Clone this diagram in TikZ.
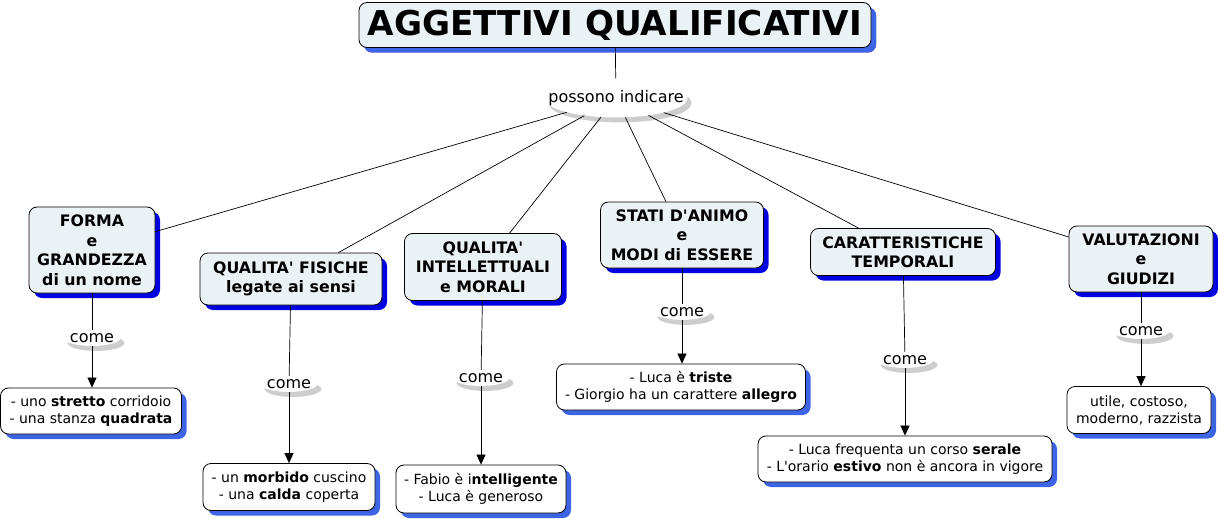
\documentclass[tikz,border=0pt]{standalone}
\usepackage{fontspec}
\setmainfont{DejaVu Sans}
\usetikzlibrary{shapes.geometric,shadows,arrows.meta}
\definecolor{cfill}{RGB}{235,242,245}
\definecolor{cshadow}{RGB}{0,0,225}
\definecolor{eshadow}{RGB}{60,100,228}
\definecolor{lshadow}{RGB}{205,205,205}
\newcommand{\conceptfont}{\fontsize{15.8}{19.5}\selectfont\bfseries}
\newcommand{\examplefont}{\fontsize{14}{17}\selectfont}
\newcommand{\apo}{\textquotesingle}

\begin{document}
\begin{tikzpicture}[x=1pt,y=-1pt,>={Triangle[width=9pt,length=10pt]},
	concept/.style={draw,line width=0.8pt,rounded corners=8pt,fill=cfill,align=center,
		inner sep=0pt,font=\conceptfont,
		general shadow={fill=cshadow,shadow xshift=5pt,shadow yshift=-5pt}},
	example/.style={draw,line width=0.8pt,rounded corners=8pt,fill=white,align=center,
		inner sep=0pt,font=\examplefont,
		general shadow={fill=eshadow,shadow xshift=5pt,shadow yshift=-5pt}},
	link/.style={ellipse,fill=white,font=\fontsize{16}{19}\selectfont,
		general shadow={fill=lshadow,shadow xshift=4pt,shadow yshift=-5pt}},
	conn/.style={line width=0.7pt}]
	\useasboundingbox (0,0) rectangle (1218,519);
	\node[concept,font=\fontsize{34.2}{38}\selectfont\bfseries,
		general shadow={fill=eshadow,shadow xshift=5pt,shadow yshift=-5pt},
		minimum width=512,minimum height=45] (title) at (615,25) {AGGETTIVI QUALIFICATIVI};
	\node[link,inner xsep=-17pt,inner ysep=6pt] (ind) at (616,98) {possono indicare};

	\node[concept,minimum width=126,minimum height=86] (forma) at (92,250) {FORMA\\e\\GRANDEZZA\\di un nome};
	\node[concept,minimum width=182,minimum height=52] (fisiche) at (291,279) {QUALITA\apo{} FISICHE\\legate ai sensi};
	\node[concept,minimum width=157,minimum height=67] (intell) at (483,267) {QUALITA\apo\\INTELLETTUALI\\e MORALI};
	\node[concept,minimum width=163,minimum height=66] (animo) at (682,235) {STATI D\apo ANIMO\\e\\MODI di ESSERE};
	\node[concept,minimum width=185,minimum height=47] (tempo) at (903,252) {CARATTERISTICHE\\TEMPORALI};
	\node[concept,minimum width=144,minimum height=66] (giudizi) at (1141,259) {VALUTAZIONI\\e\\GIUDIZI};

	\node[link,inner xsep=-2pt,inner ysep=1pt] (come1) at (92,338) {come};
	\node[link,inner xsep=-2pt,inner ysep=1pt] (come2) at (289,384) {come};
	\node[link,inner xsep=-2pt,inner ysep=1pt] (come3) at (481,378) {come};
	\node[link,inner xsep=-2pt,inner ysep=1pt] (come4) at (682,312) {come};
	\node[link,inner xsep=-2pt,inner ysep=1pt] (come5) at (905,360) {come};
	\node[link,inner xsep=-2pt,inner ysep=1pt] (come6) at (1141,331) {come};

	\node[example,minimum width=181,minimum height=46] (es1) at (91,411) {- uno \textbf{stretto} corridoio\\- una stanza \textbf{quadrata}};
	\node[example,minimum width=172,minimum height=47] (es2) at (289,487) {- un \textbf{morbido} cuscino\\- una \textbf{calda} coperta};
	\node[example,minimum width=170,minimum height=48] (es3) at (481,489) {- Fabio è i\textbf{ntelligente}\\- Luca è generoso};
	\node[example,minimum width=249,minimum height=46] (es4) at (681,387) {- Luca è \textbf{triste}\\- Giorgio ha un carattere \textbf{allegro}};
	\node[example,minimum width=294,minimum height=46] (es5) at (905,459) {- Luca frequenta un corso \textbf{serale}\\- L\apo orario \textbf{estivo} non è ancora in vigore};
	\node[example,minimum width=144,minimum height=47] (es6) at (1139,410) {utile, costoso,\\moderno, razzista};

	\draw[conn] (title) -- (ind);
	\foreach \c in {forma,fisiche,intell,animo,tempo,giudizi}
		\draw[conn] (ind) -- (\c);
	\draw[conn] (forma) -- (come1);
	\draw[conn] (fisiche) -- (come2);
	\draw[conn] (intell) -- (come3);
	\draw[conn] (animo) -- (come4);
	\draw[conn] (tempo) -- (come5);
	\draw[conn] (giudizi) -- (come6);
	\foreach \k/\e in {1/es1,2/es2,3/es3,4/es4,5/es5,6/es6}
		\draw[conn,->] (come\k) -- (come\k |- \e.north);
\end{tikzpicture}
\end{document}
